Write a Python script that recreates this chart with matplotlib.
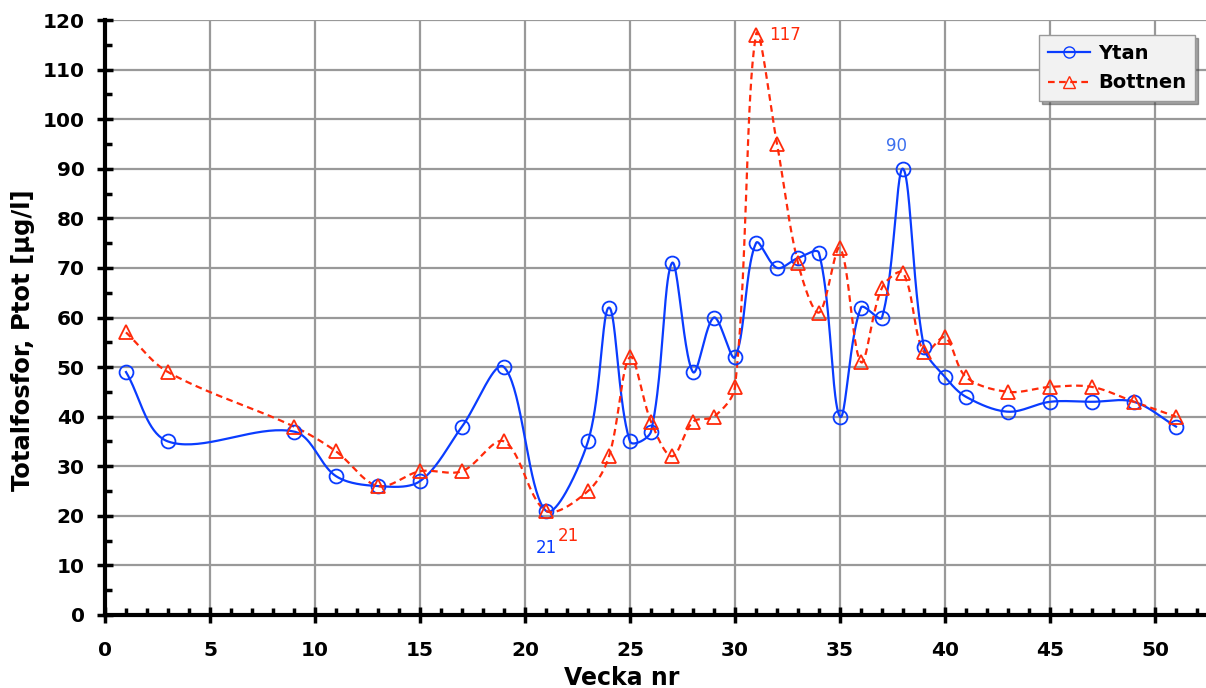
import numpy as np
import matplotlib
matplotlib.use("Agg")
import matplotlib.pyplot as plt
from matplotlib.ticker import MultipleLocator

# weeks and values
weeks = [1, 3, 9, 11, 13, 15, 17, 19, 21, 23, 24, 25, 26, 27, 28, 29, 30,
         31, 32, 33, 34, 35, 36, 37, 38, 39, 40, 41, 43, 45, 47, 49, 51]
ytan = [49, 35, 37, 28, 26, 27, 38, 50, 21, 35, 62, 35, 37, 71, 49, 60, 52,
        75, 70, 72, 73, 40, 62, 60, 90, 54, 48, 44, 41, 43, 43, 43, 38]
bottnen = [57, 49, 38, 33, 26, 29, 29, 35, 21, 25, 32, 52, 39, 32, 39, 40, 46,
           117, 95, 71, 61, 74, 51, 66, 69, 53, 56, 48, 45, 46, 46, 43, 40]

BLUE = "#0a3cff"
RED = "#ff2a0a"

#function to draw a smooth line through the points
#bezier segments, control arms scaled by the chord length (in screen proportions)
def smooth(xs, ys, n=40, sx=21.0, sy=4.96):
    p = np.column_stack([np.asarray(xs) * sx, np.asarray(ys) * sy]).astype(float)
    p = np.vstack([p[0], p, p[-1]])
    d = np.linalg.norm(np.diff(p, axis=0), axis=1)
    d[d == 0] = 1e-9
    out = []
    t = np.linspace(0, 1, n)[:, None]
    for i in range(1, len(p) - 2):
        p0, p3 = p[i], p[i + 1]
        m0 = (p[i + 1] - p[i - 1]) / (d[i - 1] + d[i])
        m1 = (p[i + 2] - p[i]) / (d[i] + d[i + 1])
        c1 = p0 + m0 * d[i] / 3
        c2 = p3 - m1 * d[i] / 3
        seg = ((1 - t) ** 3) * p0 + 3 * ((1 - t) ** 2) * t * c1 + 3 * (1 - t) * t ** 2 * c2 + t ** 3 * p3
        out.append(seg)
    out = np.vstack(out)
    return out[:, 0] / sx, out[:, 1] / sy

plt.rcParams['font.family'] = ['DejaVu Sans']
plt.rcParams['font.weight'] = 'bold'

fig = plt.figure(figsize=(12.06, 6.88), dpi=100)
ax = fig.add_axes([105 / 1206, 1 - 615 / 688, 1 - 105 / 1206, (615 - 20) / 688])

ax.set_xlim(0, (1206 - 105) / 21.0)
ax.set_ylim(0, 120)
ax.xaxis.set_major_locator(MultipleLocator(5))
ax.xaxis.set_minor_locator(MultipleLocator(1))
ax.yaxis.set_major_locator(MultipleLocator(10))
ax.yaxis.set_minor_locator(MultipleLocator(5))
ax.grid(True, which='major', color='#999999', linewidth=1.6)
ax.set_axisbelow(True)

for s in ['top', 'right']:
    ax.spines[s].set_visible(False)
for s in ['left', 'bottom']:
    ax.spines[s].set_linewidth(3)
ax.tick_params(which='major', direction='inout', length=11, width=2.5, labelsize=14.5)
ax.tick_params(axis='y', which='major', pad=9)
ax.tick_params(axis='x', which='major', pad=13)
ax.tick_params(which='minor', direction='in', length=5, width=2.5)
for lbl in ax.get_xticklabels() + ax.get_yticklabels():
    lbl.set_fontweight('bold')

sx, sy = smooth(weeks, ytan)
ax.plot(sx, sy, color=BLUE, lw=1.6, zorder=3)
ax.plot(weeks, ytan, 'o', mfc='none', mec=BLUE, mew=1.3, ms=10, zorder=4)

sx, sy = smooth(weeks, bottnen)
ax.plot(sx, sy, color=RED, lw=1.6, ls=(0, (3, 2)), zorder=3)
ax.plot(weeks, bottnen, '^', mfc='none', mec=RED, mew=1.3, ms=10, zorder=4)

# legend handles
ax.plot([], [], color=BLUE, lw=1.6, marker='o', mfc='none', mec=BLUE, ms=8, label='Ytan')
ax.plot([], [], color=RED, lw=1.6, ls=(0, (3, 2)), marker='^', mfc='none', mec=RED, ms=8, label='Bottnen')
h, l = ax.get_legend_handles_labels()
leg = ax.legend(h[-2:], l[-2:], loc='upper right', bbox_to_anchor=(0.99, 0.975),
                borderaxespad=0, fancybox=False, shadow=True, framealpha=1,
                facecolor='#f2f2f2', edgecolor='#999999',
                prop={'weight': 'bold', 'size': 14},
                handlelength=2.2, handletextpad=0.4, borderpad=0.45, labelspacing=0.55)

ax.text(32.4, 117, '117', color=RED, fontsize=12, fontweight='normal', va='center', ha='center')
ax.text(37.7, 94.5, '90', color='#3c6fee', fontsize=12, fontweight='normal', va='center', ha='center')
ax.text(21.0, 13.5, '21', color=BLUE, fontsize=12, fontweight='normal', va='center', ha='center')
ax.text(22.05, 16, '21', color=RED, fontsize=12, fontweight='normal', va='center', ha='center')

ax.set_xlabel('Vecka nr', fontsize=17, fontweight='bold')
ax.set_ylabel('Totalfosfor, Ptot [µg/l]', fontsize=17.5, fontweight='bold')
ax.xaxis.set_label_coords((622 - 105) / 1101, (615 - 666) / 595)
ax.yaxis.set_label_coords((35 - 105) / 1101, (615 - 340) / 595)

fig.savefig('out.png', dpi=100)
